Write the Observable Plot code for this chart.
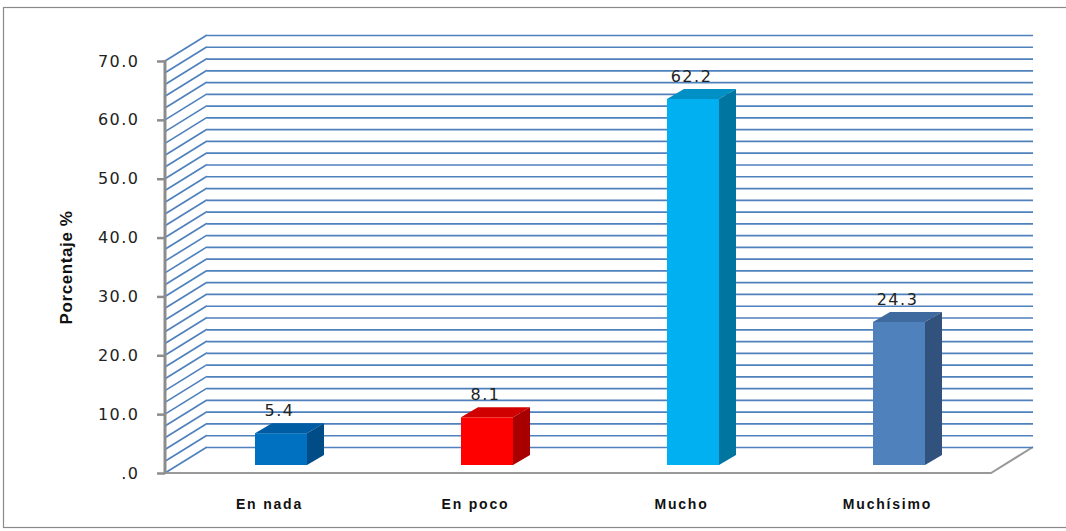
<!DOCTYPE html>
<html><head><meta charset="utf-8">
<script src="https://cdn.jsdelivr.net/npm/d3@7"></script>
<script src="https://cdn.jsdelivr.net/npm/@observablehq/plot@0.6"></script>
<style>
body{margin:0;background:#fff;overflow:hidden;}
#chart svg{display:block;font-family:"DejaVu Sans",Verdana,sans-serif;}
g[aria-label="y-axis tick label"] text{letter-spacing:1.5px;}
g[aria-label="x-axis tick label"] text{letter-spacing:1.8px;}
.vlabel text{letter-spacing:1.5px;}
.ylab text{letter-spacing:0.6px;}
</style></head><body><div id="chart"></div>
<script>
// ---- data ----
const categories = ["En nada", "En poco", "Mucho", "Muchísimo"];
const values = [5.4, 8.1, 62.2, 24.3];
const frontColors = ["#0070c0", "#ff0000", "#00b0f0", "#4f81bd"];
const topColors = ["#005da3", "#d00000", "#0090c6", "#3e6aa0"];
const sideColors = ["#004c86", "#a80000", "#00759f", "#31527c"];
const yTicks = [0, 10, 20, 30, 40, 50, 60, 70];
const gridValues = [0,2,4,6,8,10,12,14,16,18,20,22,24,26,28,30,32,34,36,38,40,42,44,46,48,50,52,54,56,58,60,62,64,66,68,70];
const yLabel = "Porcentaje %";

const data = categories.map((c, i) => ({cat: c, value: values[i], front: frontColors[i], top: topColors[i], side: sideColors[i]}));

// 3D geometry (pixels)
const WALL_DX = 42, WALL_DY = -26;
const BAR_DX = 12, BAR_DY = -8;
const DEPTH_DX = 17, DEPTH_DY = -10;
const GRID = "#4f81bd", AXIS = "#8c8c8c";

function bandwidthOf(sx) {
  if (typeof sx.bandwidth === "function") return sx.bandwidth();
  if (typeof sx.bandwidth === "number") return sx.bandwidth;
  return (sx(categories[1]) - sx(categories[0])) * 0.25;
}

function wallMark(index, scales, vals, dims) {
  const sy = scales.y;
  const L = dims.marginLeft, R = dims.width - dims.marginRight;
  const g = d3.create("svg:g");
  // outer border
  g.append("rect").attr("x", 3.5).attr("y", 7.5).attr("width", dims.width + 10).attr("height", 520)
    .attr("fill", "none").attr("stroke", "#8a8a8a").attr("stroke-width", 1.2);
  for (const v of gridValues) {
    g.append("line").attr("x1", L).attr("y1", sy(v)).attr("x2", L + WALL_DX).attr("y2", sy(v) + WALL_DY)
      .attr("stroke", GRID).attr("stroke-width", 1.7);
  }
  const y0 = sy(0);
  g.append("path").attr("d", `M${L},${y0}H${R}L${R + WALL_DX},${y0 + WALL_DY}`)
    .attr("fill", "none").attr("stroke", "#999").attr("stroke-width", 2);
  return g.node();
}

function barFaces(index, scales, vals, dims) {
  const sx = scales.x, sy = scales.y;
  const bw = bandwidthOf(sx);
  const g = d3.create("svg:g");
  const b = sy(0) + BAR_DY;
  for (const d of data) {
    const x1 = sx(d.cat) + BAR_DX, x2 = x1 + bw;
    const t = sy(d.value) + BAR_DY;
    g.append("path").attr("d", `M${x1},${t}L${x2},${t}L${x2 + DEPTH_DX},${t + DEPTH_DY}L${x1 + DEPTH_DX},${t + DEPTH_DY}Z`)
      .attr("fill", d.top);
    g.append("path").attr("d", `M${x2},${t}L${x2 + DEPTH_DX},${t + DEPTH_DY}L${x2 + DEPTH_DX},${b + DEPTH_DY}L${x2},${b}Z`)
      .attr("fill", d.side);
  }
  return g.node();
}

function axisLine(index, scales, vals, dims) {
  const sy = scales.y;
  const L = dims.marginLeft;
  const g = d3.create("svg:g");
  g.append("line").attr("x1", L).attr("x2", L).attr("y1", sy(0) + 1).attr("y2", sy(70) - 1)
    .attr("stroke", AXIS).attr("stroke-width", 3);
  return g.node();
}

const chart = Plot.plot({
  width: 1066,
  height: 531,
  marginLeft: 165,
  marginRight: 75,
  marginTop: 61,
  marginBottom: 58,
  x: {domain: categories, paddingInner: 0.75, paddingOuter: 0.375, label: null},
  y: {domain: [0, 70], label: null},
  color: {type: "identity"},
  marks: [
    wallMark,
    Plot.ruleY(gridValues, {dx: WALL_DX, dy: WALL_DY, stroke: GRID, strokeWidth: 1.7}),
    Plot.barY(data, {x: "cat", y: "value", fill: "front", dx: BAR_DX, dy: BAR_DY}),
    barFaces,
    axisLine,
    Plot.axisY({ticks: yTicks, tickSize: 8, tickPadding: 18, stroke: AXIS, strokeWidth: 2.5,
      tickFormat: d => d === 0 ? ".0" : d.toFixed(1), fontSize: 16, fill: "#222", label: null}),
    Plot.axisX({tickSize: 0, tickPadding: 26, fontSize: 14, fontWeight: "bold",
      fontFamily: "'Liberation Sans', Arial, sans-serif", fill: "#111", label: null}),
    Plot.text(data, {x: "cat", y: "value", text: d => d.value.toFixed(1), dx: BAR_DX - 2, dy: -31,
      fontSize: 16, fill: "#222", className: "vlabel"}),
    Plot.text([yLabel], {frameAnchor: "left", textAnchor: "middle", rotate: -90, dx: -99, fontSize: 17, fontWeight: "bold",
      fontFamily: "'Liberation Sans Narrow', 'Arial Narrow', 'Liberation Sans', sans-serif", fill: "#111", className: "ylab"})
  ]
});
document.getElementById("chart").appendChild(chart);
</script>
</body></html>
